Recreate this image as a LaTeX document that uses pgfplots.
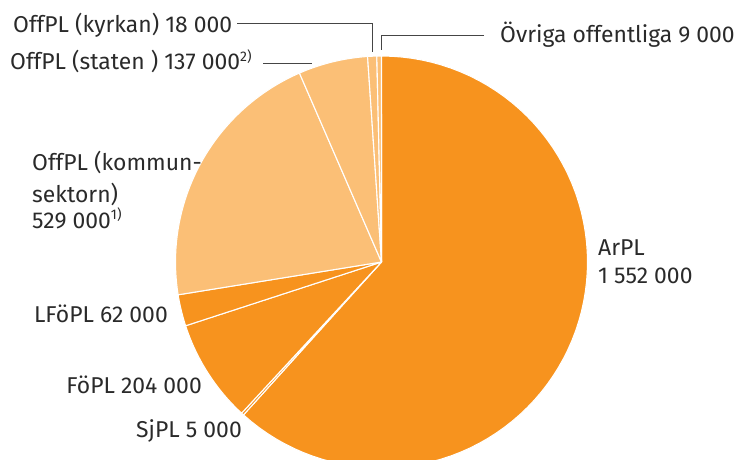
\documentclass[border=0pt]{standalone}
\usepackage{pgfplots}
\usepackage{pgfplotstable}
\pgfplotsset{compat=1.18}
\usepackage{fontspec}
\setmainfont{Fira Sans}
\definecolor{dark}{HTML}{F7931E}
\definecolor{light}{HTML}{FBBF76}
\definecolor{txt}{HTML}{2A2A2A}
\definecolor{lead}{HTML}{454545}
\newcommand{\supnote}[1]{\raisebox{0.38em}{\fontsize{14}{14}\selectfont #1}}
\pgfplotstableread{
label value col
ArPL 1552 dark
SjPL 5 dark
FoPL 204 dark
LFoPL 62 dark
Kommun 529 light
Staten 137 light
Kyrkan 18 light
Ovriga 9 light
}\piedata
\begin{document}
\begin{tikzpicture}
\useasboundingbox (0,0) rectangle (734bp,460bp);
\begin{axis}[
  at={(0,0)}, anchor=south west,
  width=734bp, height=460bp, scale only axis,
  xmin=0, xmax=734, ymin=0, ymax=460,
  hide axis, clip=true, clip mode=individual,
]
\gdef\astart{90}
\pgfplotsforeachungrouped \i in {0,...,7} {
  \pgfplotstablegetelem{\i}{value}\of\piedata
  \let\v\pgfplotsretval
  \pgfplotstablegetelem{\i}{col}\of\piedata
  \let\c\pgfplotsretval
  \pgfmathsetmacro\aend{\astart - \v/2516*360}
  \edef\temp{\noexpand\addplot[fill=\c, draw=white, line width=1.1pt, line join=round, domain=\aend:\astart, samples=80]
    ({381.5+206*cos(x)},{198+206*sin(x)}) -- (axis cs:381.5,198) -- cycle;}
  \temp
  \global\let\astart\aend
}
\end{axis}
\begin{scope}[x=1bp,y=1bp]
\tikzset{lab/.style={inner sep=0pt, text=txt, font=\fontsize{23}{28}\selectfont}}
\node[lab, anchor=base west] at (13,427) {OffPL (kyrkan) 18 000};
\node[lab, anchor=base west] at (10,390) {OffPL (staten ) 137 000\supnote{2)}};
\node[lab, anchor=base west] at (500,417) {Övriga offentliga 9 000};
\node[lab, anchor=base west] at (32,290) {OffPL (kommun-};
\node[lab, anchor=base west] at (32,258) {sektorn)};
\node[lab, anchor=base west] at (32,232) {529 000\supnote{1)}};
\node[lab, anchor=base west] at (598,205) {ArPL};
\node[lab, anchor=base west] at (598,177) {1 552 000};
\node[lab, anchor=base east] at (168,138) {LFöPL 62 000};
\node[lab, anchor=base east] at (202,67) {FöPL 204 000};
\node[lab, anchor=base east] at (242,23) {SjPL 5 000};
\draw[lead, line width=1pt] (237,437) -- (372,437) -- (372,408);
\draw[lead, line width=1pt] (484,425) -- (381,425) -- (381,410);
\draw[lead, line width=1pt] (263,397) -- (312,397);
\end{scope}
\end{tikzpicture}
\end{document}
